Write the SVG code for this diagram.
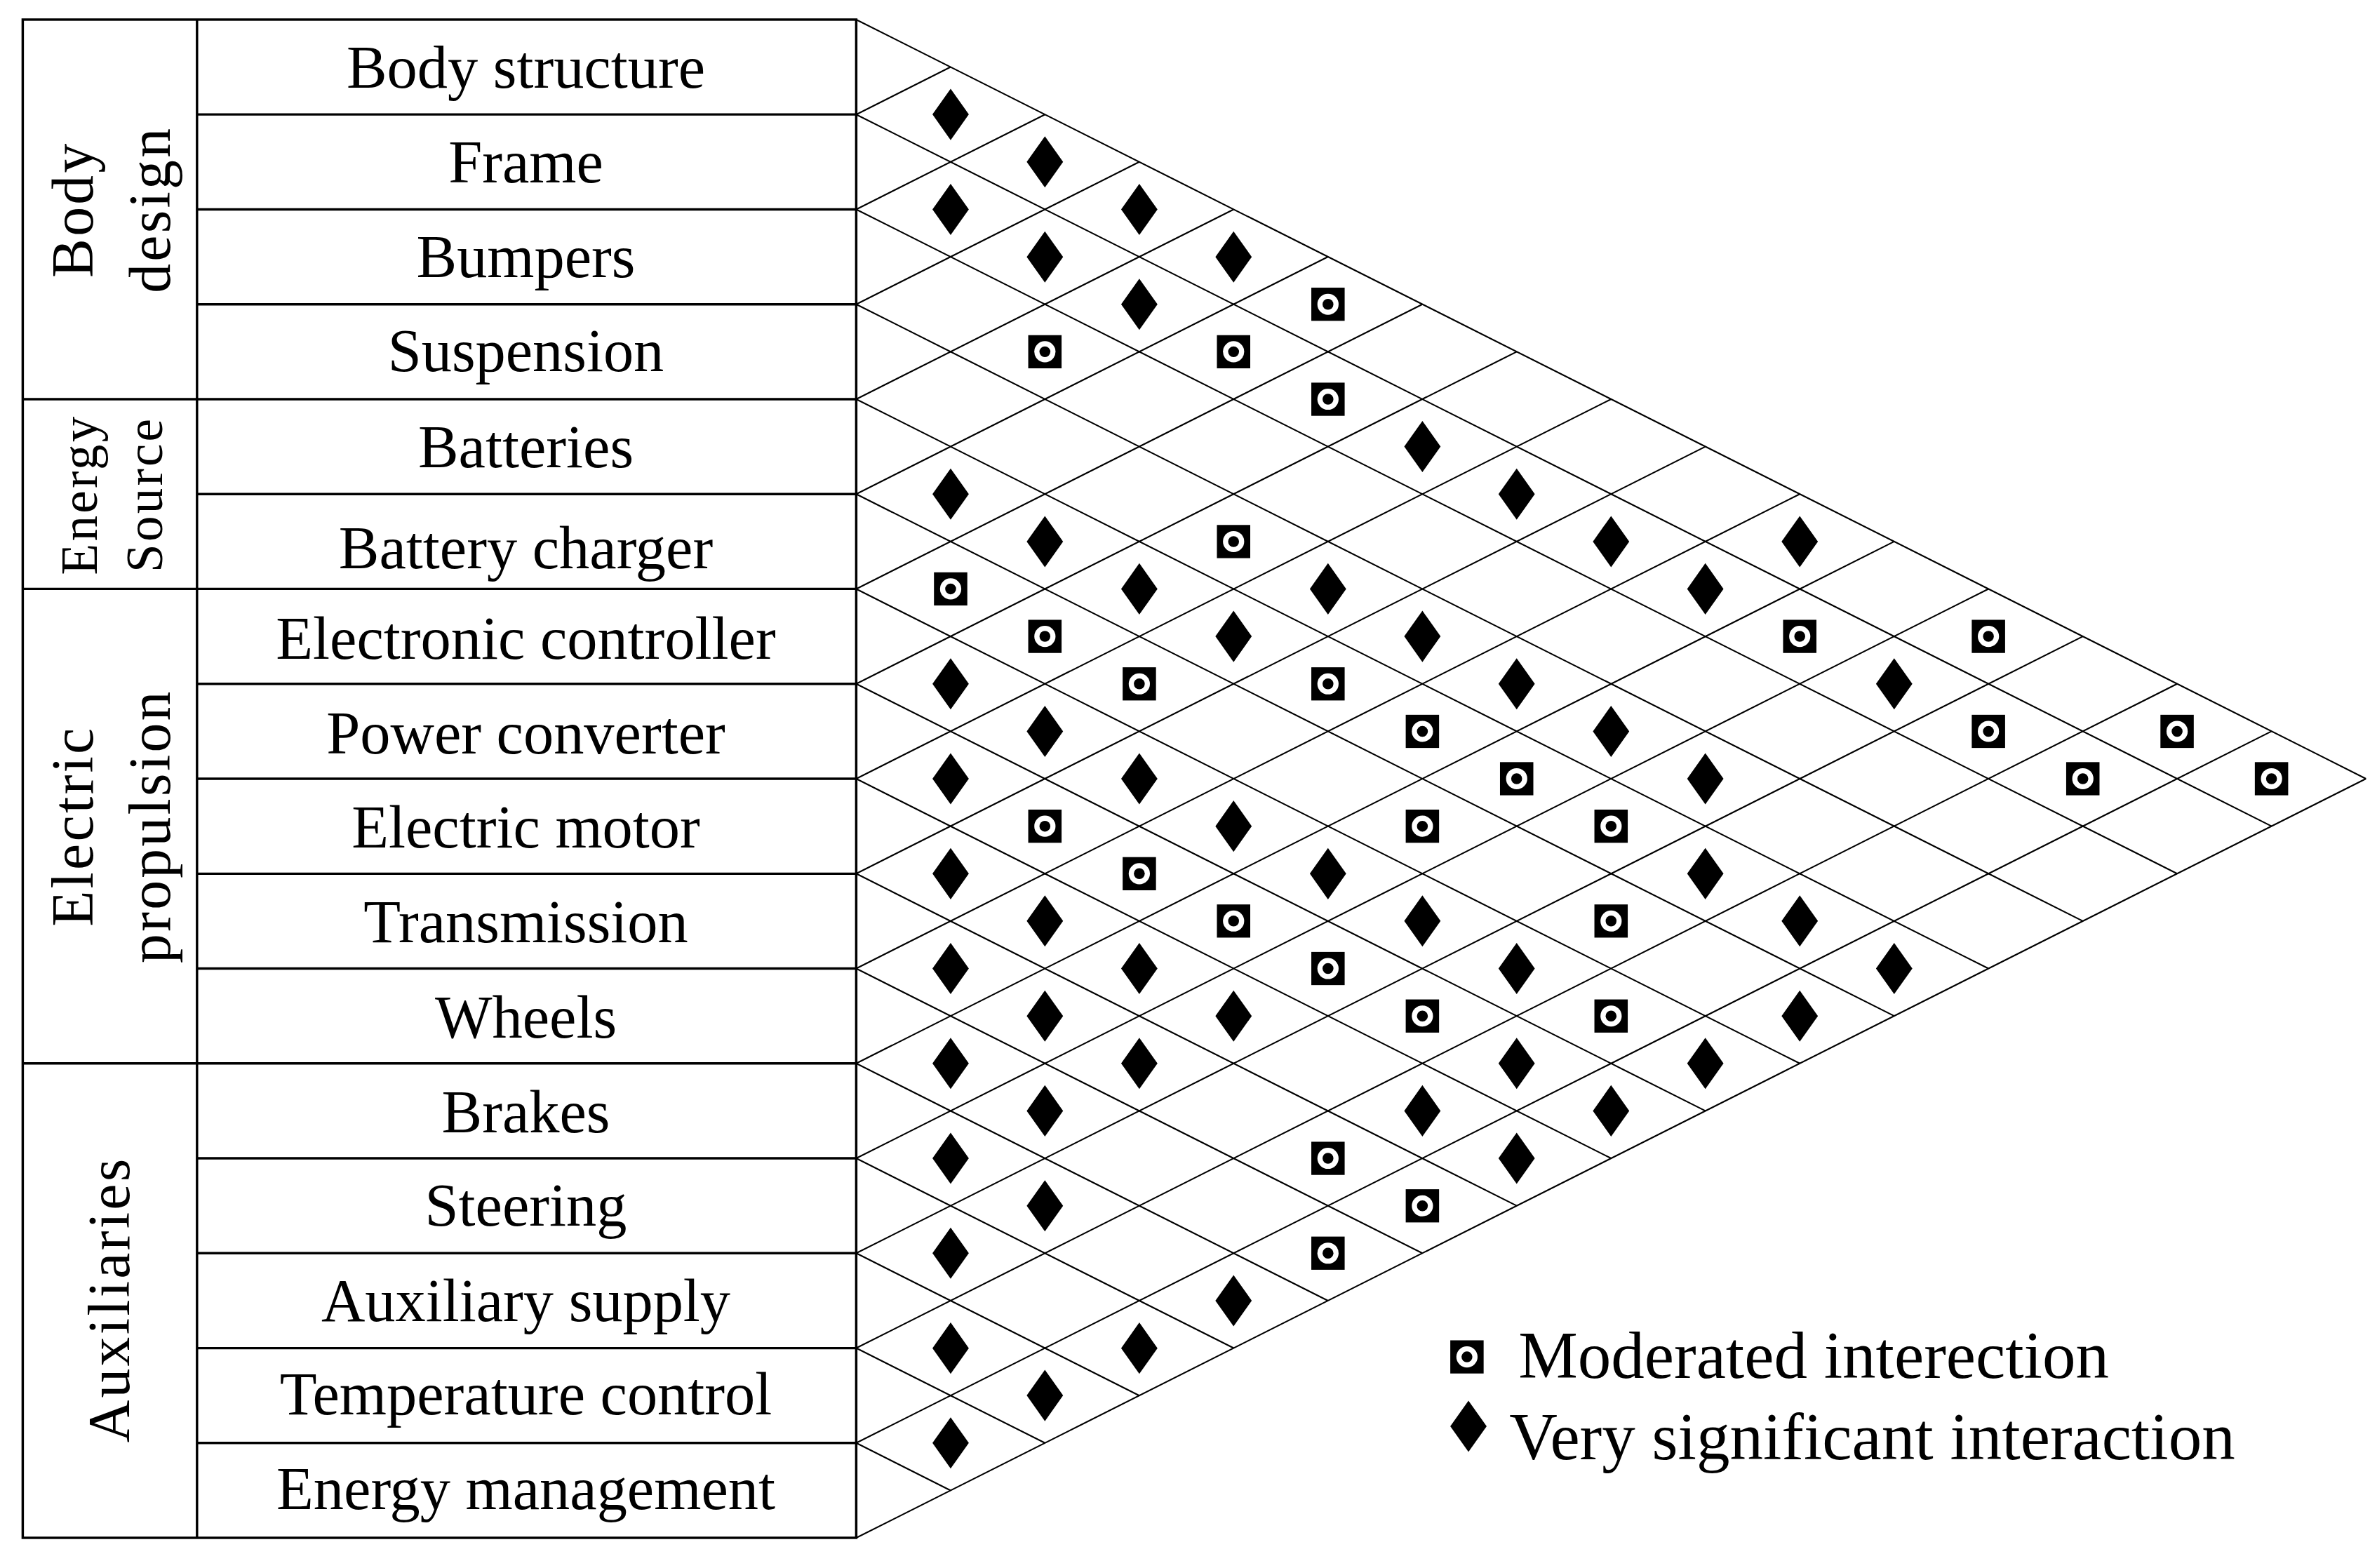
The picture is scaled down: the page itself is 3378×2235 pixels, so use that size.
<svg xmlns="http://www.w3.org/2000/svg" xmlns:xlink="http://www.w3.org/1999/xlink" width="3378" height="2235" viewBox="0 0 3378 2235">
<style>
text{font-family:"Liberation Serif","Times New Roman",serif;fill:#000}
.lab{font-size:40px;text-anchor:middle}
.cat{font-size:39px;text-anchor:middle;letter-spacing:1.5px}
.box{fill:none;stroke:#000;stroke-width:1.6}
.g{fill:none;stroke:#000;stroke-width:1}
.leg{font-size:44px}
</style>
<defs>
<path id="D" d="M0,-17 L12,0 L0,17 L-12,0Z" fill="#000"/>
<g id="M"><rect x="-11" y="-11" width="22" height="22" fill="#000"/><circle r="7" fill="#fff"/><circle r="3.6" fill="#000"/></g>
</defs>
<rect width="3378" height="2235" fill="#fff"/>
<g transform="scale(2.16 2.149)">
<g id="table">
<rect class="box" x="15" y="13" width="550" height="1007"/>
<line class="box" x1="130" y1="13" x2="130" y2="1020"/>
<path class="box" d="M15,264.8H130M15,390.6H130M15,705.3H130"/>
<path class="box" d="M130,75.9H565M130,138.9H565M130,201.8H565M130,264.8H565M130,327.7H565M130,390.6H565M130,453.6H565M130,516.5H565M130,579.5H565M130,642.4H565M130,705.3H565M130,768.3H565M130,831.2H565M130,894.2H565M130,957.1H565"/>
</g>
<g id="categories">
<text class="cat" transform="translate(61,139) rotate(-90)">Body</text>
<text class="cat" transform="translate(112,139) rotate(-90)">design</text>
<text class="cat" style="font-size:34px" transform="translate(64,328) rotate(-90)">Energy</text>
<text class="cat" style="font-size:34px" transform="translate(107,328) rotate(-90)">Source</text>
<text class="cat" transform="translate(61,548) rotate(-90)">Electric</text>
<text class="cat" transform="translate(112,548) rotate(-90)">propulsion</text>
<text class="cat" transform="translate(85,862) rotate(-90)">Auxiliaries</text>
</g>
<g id="labels">
<text class="lab" x="347" y="58">Body structure</text>
<text class="lab" x="347" y="121">Frame</text>
<text class="lab" x="347" y="184">Bumpers</text>
<text class="lab" x="347" y="246">Suspension</text>
<text class="lab" x="347" y="310">Batteries</text>
<text class="lab" x="347" y="377">Battery charger</text>
<text class="lab" x="347" y="437">Electronic controller</text>
<text class="lab" x="347" y="500">Power converter</text>
<text class="lab" x="347" y="562">Electric motor</text>
<text class="lab" x="347" y="625">Transmission</text>
<text class="lab" x="347" y="688">Wheels</text>
<text class="lab" x="347" y="751">Brakes</text>
<text class="lab" x="347" y="813">Steering</text>
<text class="lab" x="347" y="876">Auxiliary supply</text>
<text class="lab" x="347" y="938">Temperature control</text>
<text class="lab" x="347" y="1001">Energy management</text>
</g>
<g id="connectors">
<path class="g" d="M565,13L1561.2,516.5M565,75.94L1498.9,547.99M565,138.88L1436.6,579.46M565,201.82L1374.4,610.93M565,264.76L1312.1,642.4M565,327.7L1249.9,673.87M565,390.64L1187.6,705.34M565,453.58L1125.3,736.81M565,516.52L1063.1,768.28M565,579.46L1000.8,799.75M565,642.4L938.56,831.22M565,705.34L876.3,862.69M565,768.28L814.04,894.16M565,831.22L751.78,925.63M565,894.16L689.52,957.1M565,957.1L627.26,988.57"/>
<path class="g" d="M565,75.94L627.26,44.47M565,138.88L689.52,75.94M565,201.82L751.78,107.41M565,264.76L814.04,138.88M565,327.7L876.3,170.35M565,390.64L938.56,201.82M565,453.58L1000.8,233.29M565,516.52L1063.1,264.76M565,579.46L1125.3,296.23M565,642.4L1187.6,327.7M565,705.34L1249.9,359.17M565,768.28L1312.1,390.64M565,831.22L1374.4,422.11M565,894.16L1436.6,453.58M565,957.1L1498.9,485.05M565,1020.04L1561.2,516.5"/>
</g>
<g id="markers">
<use href="#D" x="627.3" y="75.9"/><use href="#D" x="689.5" y="107.4"/><use href="#D" x="627.3" y="138.9"/><use href="#D" x="751.8" y="138.9"/>
<use href="#D" x="689.5" y="170.4"/><use href="#D" x="814" y="170.4"/><use href="#D" x="751.8" y="201.8"/><use href="#D" x="938.6" y="296.2"/>
<use href="#D" x="1000.8" y="327.7"/><use href="#D" x="627.3" y="327.7"/><use href="#D" x="689.5" y="359.2"/><use href="#D" x="1063.1" y="359.2"/>
<use href="#D" x="1187.6" y="359.2"/><use href="#D" x="751.8" y="390.6"/><use href="#D" x="876.3" y="390.6"/><use href="#D" x="1125.3" y="390.6"/>
<use href="#D" x="814" y="422.1"/><use href="#D" x="938.6" y="422.1"/><use href="#D" x="627.3" y="453.6"/><use href="#D" x="1000.8" y="453.6"/>
<use href="#D" x="1249.9" y="453.6"/><use href="#D" x="689.5" y="485.1"/><use href="#D" x="1063.1" y="485.1"/><use href="#D" x="627.3" y="516.5"/>
<use href="#D" x="751.8" y="516.5"/><use href="#D" x="1125.3" y="516.5"/><use href="#D" x="814" y="548"/><use href="#D" x="627.3" y="579.5"/>
<use href="#D" x="876.3" y="579.5"/><use href="#D" x="1125.3" y="579.5"/><use href="#D" x="689.5" y="610.9"/><use href="#D" x="938.6" y="610.9"/>
<use href="#D" x="1187.6" y="610.9"/><use href="#D" x="627.3" y="642.4"/><use href="#D" x="751.8" y="642.4"/><use href="#D" x="1000.8" y="642.4"/>
<use href="#D" x="1249.9" y="642.4"/><use href="#D" x="689.5" y="673.9"/><use href="#D" x="814" y="673.9"/><use href="#D" x="1187.6" y="673.9"/>
<use href="#D" x="627.3" y="705.3"/><use href="#D" x="751.8" y="705.3"/><use href="#D" x="1000.8" y="705.3"/><use href="#D" x="1125.3" y="705.3"/>
<use href="#D" x="689.5" y="736.8"/><use href="#D" x="938.6" y="736.8"/><use href="#D" x="1063.1" y="736.8"/><use href="#D" x="627.3" y="768.3"/>
<use href="#D" x="1000.8" y="768.3"/><use href="#D" x="689.5" y="799.8"/><use href="#D" x="627.3" y="831.2"/><use href="#D" x="814" y="862.7"/>
<use href="#D" x="627.3" y="894.2"/><use href="#D" x="751.8" y="894.2"/><use href="#D" x="689.5" y="925.6"/><use href="#D" x="627.3" y="957.1"/>
<use href="#M" x="876.3" y="201.8"/><use href="#M" x="689.5" y="233.3"/><use href="#M" x="814" y="233.3"/><use href="#M" x="876.3" y="264.8"/>
<use href="#M" x="814" y="359.2"/><use href="#M" x="627.3" y="390.6"/><use href="#M" x="689.5" y="422.1"/><use href="#M" x="1187.6" y="422.1"/>
<use href="#M" x="1312.1" y="422.1"/><use href="#M" x="751.8" y="453.6"/><use href="#M" x="876.3" y="453.6"/><use href="#M" x="938.6" y="485.1"/>
<use href="#M" x="1312.1" y="485.1"/><use href="#M" x="1436.6" y="485.1"/><use href="#M" x="1000.8" y="516.5"/><use href="#M" x="1374.4" y="516.5"/>
<use href="#M" x="1498.9" y="516.5"/><use href="#M" x="689.5" y="548"/><use href="#M" x="938.6" y="548"/><use href="#M" x="1063.1" y="548"/>
<use href="#M" x="751.8" y="579.5"/><use href="#M" x="814" y="610.9"/><use href="#M" x="1063.1" y="610.9"/><use href="#M" x="876.3" y="642.4"/>
<use href="#M" x="938.6" y="673.9"/><use href="#M" x="1063.1" y="673.9"/><use href="#M" x="876.3" y="768.3"/><use href="#M" x="938.6" y="799.8"/>
<use href="#M" x="876.3" y="831.2"/>
</g>
<g id="legend">
<use href="#M" x="968" y="900"/>
<text class="leg" x="1002" y="914">Moderated interection</text>
<use href="#D" x="969" y="946"/>
<text class="leg" x="996" y="968">Very significant interaction</text>
</g>
</g>
</svg>
